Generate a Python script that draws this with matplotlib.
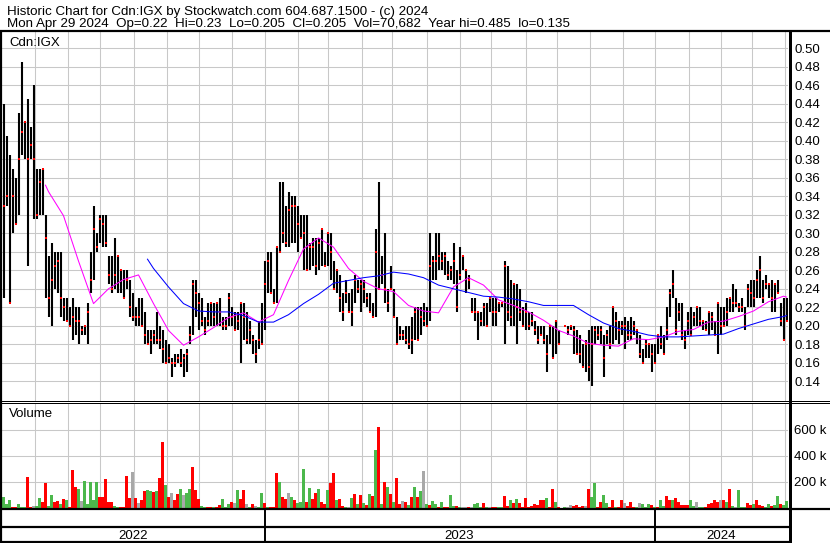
import numpy as np
import pandas as pd
import matplotlib
matplotlib.use("Agg")
import matplotlib.pyplot as plt
from matplotlib.lines import Line2D

plt.rcParams['font.family'] = ['Liberation Sans', 'DejaVu Sans']

# ---- data: one bar per two trading days, May 2022 - Apr 2024 ----
high = [.44, .405, .385, .37, .36, .43, .485, .42, .445, .415,
        .46, .37, .37, .37, .32, .275, .29, .28, .28, .28,
        .23, .23, .22, .23, .22, .22, .20, .20, .225, .28,
        .33, .30, .32, .32, .32, .275, .275, .295, .275, .26,
        .26, .26, .25, .235, .22, .23, .23, .215, .195, .195,
        .195, .215, .20, .195, .185, .18, .165, .17, .17, .175,
        .17, .175, .20, .25, .25, .235, .23, .21, .225, .225,
        .225, .225, .23, .21, .21, .235, .22, .215, .215, .225,
        .225, .215, .205, .19, .185, .205, .225, .27, .28, .28,
        .24, .285, .355, .355, .33, .345, .34, .34, .33, .32,
        .32, .32, .29, .295, .295, .295, .305, .28, .30, .30,
        .27, .26, .255, .235, .25, .235, .24, .255, .25, .25,
        .25, .235, .235, .225, .305, .355, .275, .30, .24, .265,
        .24, .21, .20, .195, .20, .20, .21, .22, .22, .22,
        .225, .22, .30, .275, .30, .30, .28, .28, .27, .265,
        .29, .26, .285, .275, .26, .255, .23, .23, .215, .215,
        .225, .225, .23, .23, .23, .225, .225, .27, .265, .25,
        .245, .245, .24, .22, .225, .215, .215, .205, .20, .20,
        .20, .19, .20, .20, .205, .195, np.nan, .20, .20, .20,
        .20, .195, .19, .18, .185, .195, .20, .20, .20, .20,
        .19, .195, .20, .22, .215, .205, .205, .21, .205, .21,
        .205, .195, .19, .175, .185, .18, .18, .18, .19, .20,
        .19, .22, .24, .26, .23, .225, .225, .195, .215, .22,
        .215, .22, .22, .205, .205, .215, .215, .205, .225, .22,
        .22, .23, .23, .245, .24, .225, .23, .22, .245, .25,
        .25, .26, .275, .25, .255, .245, .25, .245, .25, .225,
        .23, .23]
low = [.23, .33, .225, .30, .31, .32, .385, .38, .265, .38,
       .315, .315, .32, .32, .23, .21, .20, .24, .235, .21,
       .205, .205, .20, .185, .19, .18, .19, .19, .18, .235,
       .25, .28, .29, .285, .285, .245, .235, .24, .235, .235,
       .23, .24, .21, .205, .20, .20, .20, .18, .18, .17,
       .18, .18, .175, .16, .16, .16, .145, .155, .16, .155,
       .145, .15, .18, .19, .21, .195, .20, .19, .20, .20,
       .20, .20, .20, .195, .195, .20, .20, .195, .195, .16,
       .185, .18, .18, .17, .16, .175, .18, .195, .235, .235,
       .225, .225, .28, .29, .285, .285, .29, .29, .28, .295,
       .26, .26, .26, .265, .255, .26, .265, .265, .265, .25,
       .24, .235, .215, .205, .225, .215, .20, .225, .235, .215,
       .225, .22, .215, .21, .21, .24, .245, .225, .215, .24,
       .21, .18, .185, .185, .18, .175, .17, .185, .185, .19,
       .20, .20, .205, .25, .25, .26, .26, .255, .25, .25,
       .245, .215, .25, .26, .235, .24, .215, .205, .185, .20,
       .20, .20, .215, .20, .20, .215, .22, .18, .205, .20,
       .20, .18, .205, .20, .195, .195, .20, .19, .18, .19,
       .18, .15, .18, .165, .17, .18, np.nan, .20, .19, .195,
       .17, .17, .16, .155, .15, .14, .135, .18, .185, .18,
       .145, .18, .175, .18, .185, .18, .19, .175, .185, .185,
       .19, .18, .165, .16, .165, .165, .15, .16, .17, .175,
       .17, .185, .21, .23, .19, .205, .185, .175, .19, .19,
       .20, .20, .20, .195, .195, .19, .195, .19, .17, .19,
       .20, .20, .215, .215, .22, .215, .215, .195, .22, .22,
       .22, .23, .23, .225, .24, .23, .215, .215, .235, .20,
       .185, .205]
close = [.33, .34, .225, .34, .31, .38, .41, .42, .38, .395,
         .38, .32, .355, .37, .295, .23, .25, .265, .27, .23,
         .22, .205, .20, .21, .205, .205, .195, .20, .215, .25,
         .305, .285, .315, .31, .29, .255, .24, .255, .275, .26,
         .23, .25, .22, .21, .21, .21, .20, .19, .18, .185,
         .19, .185, .185, .175, .16, .165, .16, .16, .165, .16,
         .165, .17, .19, .245, .235, .225, .205, .195, .205, .225,
         .21, .225, .215, .20, .20, .23, .21, .195, .205, .225,
         .21, .185, .195, .185, .17, .185, .18, .245, .27, .235,
         .225, .285, .28, .30, .29, .325, .33, .33, .31, .295,
         .30, .26, .285, .285, .265, .29, .305, .265, .30, .28,
         .24, .26, .23, .215, .235, .215, .215, .25, .24, .245,
         .24, .23, .215, .21, .28, .24, .255, .24, .225, .24,
         .21, .18, .19, .19, .185, .18, .185, .215, .185, .21,
         .205, .20, .265, .27, .27, .275, .27, .275, .255, .26,
         .27, .22, .255, .275, .26, .25, .215, .215, .215, .205,
         .22, .20, .23, .215, .215, .225, .225, .265, .215, .21,
         .245, .22, .215, .20, .215, .20, .205, .195, .185, .19,
         .185, .17, .20, .165, .205, .18, np.nan, .20, .195, .20,
         .195, .17, .17, .155, .18, .155, .18, .195, .19, .195,
         .165, .19, .18, .22, .205, .195, .20, .20, .19, .19,
         .20, .195, .17, .16, .18, .18, .17, .16, .19, .18,
         .17, .195, .235, .245, .195, .215, .19, .185, .205, .19,
         .21, .22, .205, .205, .195, .215, .21, .19, .225, .20,
         .20, .215, .23, .225, .225, .22, .22, .20, .24, .235,
         .23, .25, .26, .23, .245, .245, .23, .245, .235, .205,
         .185, .205]

# volume in thousands of shares, direction: g = up, r = down, n = unchanged
volume = [85, 32, 63, 8, 5, 27, 5, 6, 240, 8,
          15, 15, 76, 50, 192, 15, 97, 45, 53, 32,
          70, 60, 10, 290, 160, 143, 52, 205, 32, 200,
          58, 200, 84, 84, 220, 45, 45, 14, 8, 4,
          4, 245, 78, 277, 76, 40, 63, 130, 140, 133,
          123, 133, 230, 505, 180, 86, 117, 63, 105, 146,
          102, 117, 146, 315, 135, 71, 12, 6, 6, 6,
          8, 6, 20, 70, 8, 32, 45, 37, 140, 71,
          140, 32, 8, 32, 14, 10, 114, 40, 5, 5,
          8, 272, 200, 84, 71, 117, 84, 58, 40, 45,
          303, 45, 154, 71, 117, 148, 45, 32, 135, 195,
          272, 58, 68, 14, 5, 8, 79, 110, 32, 97,
          37, 20, 105, 91, 450, 625, 32, 200, 160, 105,
          45, 230, 32, 52, 50, 20, 84, 160, 84, 127,
          285, 32, 25, 52, 32, 10, 45, 8, 10, 102,
          15, 18, 8, 5, 6, 5, 8, 32, 37, 8,
          35, 8, 8, 5, 8, 5, 6, 90, 14, 63,
          37, 70, 37, 8, 78, 8, 14, 30, 25, 63,
          63, 78, 10, 147, 45, 6, 3, 5, 8, 20,
          12, 20, 10, 14, 14, 147, 84, 195, 10, 45,
          97, 37, 10, 58, 5, 10, 65, 40, 18, 45,
          8, 8, 40, 32, 6, 30, 25, 6, 8, 58,
          18, 90, 65, 65, 75, 45, 25, 25, 20, 65,
          18, 45, 8, 10, 5, 30, 37, 58, 45, 62,
          62, 50, 147, 18, 6, 135, 8, 8, 37, 25,
          32, 65, 25, 18, 10, 32, 18, 20, 92, 32,
          25, 55]
vol_dir = ("gggrrgggrr" "nggrrggrrg" "rgrrrgnggg" "ggrrrrrggr"
           "rrrnrnrrgg" "rgrrgrnrrg" "nggrrrggrr" "grrgggrngr"
           "rngrnggrgr" "rrgrrngrgg" "grgrrgrrgr" "rgrrgngrgr"
           "grgrgrgrgr" "grrnrgrgrg" "ngrggrgrrg" "grgnnrngg"
           "grgnrrggrr" "grgrrrrrrr" "rrgrrgrrgn" "nrrrrnrgg"
           "rrggrrgrrn" "rrrgngggrg" "rggrrgrrrr" "rggnggrrr"
           "rrnrgrgnggg" "rrgrrrggrgg" "r")

# moving averages (bucket index, value)
fast_k = [14] + list(range(15, 261, 5)) + [261]
fast_ma = [.352, .345, .319, .27, .224, .240, .25, .255, .224, .195,
           .179, .188, .198, .209, .214, .204, .212, .249, .283, .295,
           .285, .262, .248, .24, .237, .222, .216, .214, .242, .252,
           .244, .228, .222, .215, .206, .195, .189, .181, .179, .178,
           .186, .185, .188, .194, .196, .204, .205, .21, .216, .226,
           .232, .231]
slow_k = [48] + list(range(50, 261, 5)) + [261]
slow_ma = [.272, .262, .242, .224, .216, .215, .215, .211, .204, .204,
           .212, .224, .234, .246, .249, .252, .254, .258, .256, .252,
           .244, .24, .236, .232, .231, .229, .226, .222, .222, .222,
           .212, .203, .197, .194, .19, .188, .188, .189, .19, .191,
           .197, .202, .207, .21, .211]

price_ticks = np.arange(0.14, 0.501, 0.02)
vol_ticks = [200, 400, 600]

# ---- layout ----
W, H = 830, 543
fig = plt.figure(figsize=(W / 100, H / 100), dpi=100)
fig.patch.set_facecolor('white')


def px_axes(x0, y0, x1, y1):
    return fig.add_axes([x0 / W, 1 - y1 / H, (x1 - x0) / W, (y1 - y0) / H])


def hline(y, x0, x1, lw=1.0):
    fig.add_artist(Line2D([x0 / W, x1 / W], [1 - y / H, 1 - y / H],
                          color='black', lw=lw * 0.72, solid_capstyle='butt'))


def vline(x, y0, y1, lw=1.0):
    fig.add_artist(Line2D([x / W, x / W], [1 - y0 / H, 1 - y1 / H],
                          color='black', lw=lw * 0.72, solid_capstyle='butt'))


n = len(high)
days = pd.bdate_range("2022-05-02", periods=2 * n)
xs = np.arange(n) * 2 + 0.5
starts = [i for i in range(1, len(days)) if days[i].month != days[i - 1].month]
month_edges = np.array(starts) - 0.5
year_edges = [i - 0.5 for i in starts if days[i].year != days[i - 1].year]
xlim = (-0.5, 2 * n - 0.5)
grid_kw = dict(color='#c8c8c8', lw=0.75)

# price panel
ax = px_axes(2, 32, 788, 401)
ax.set_xlim(xlim)
ax.set_ylim(0.1187, 0.5176)
ax.set_axisbelow(True)
ax.set_xticks(month_edges)
ax.set_yticks(price_ticks)
ax.grid(True, **grid_kw)
ax.tick_params(length=0, labelbottom=False, labelleft=False, labelright=True,
               labelsize=9.5, pad=4.5)
ax.set_yticklabels(['%.2f' % t for t in price_ticks])
for s in ax.spines.values():
    s.set_visible(False)
ax.vlines(xs, low, high, color='black', lw=1.5)
ax.plot(xs + 0.6, close, 's', color='#ff0000', ms=2.1, mew=0)
ax.plot(2 * np.array(fast_k) + 0.5, fast_ma, color='#ff00ff', lw=0.75)
ax.plot(2 * np.array(slow_k) + 0.5, slow_ma, color='#0000ff', lw=0.75)
ax.text(7 / 786, 1 - 14 / 369, 'Cdn:IGX', transform=ax.transAxes,
        fontsize=9.5, va='baseline')

# volume panel
av = px_axes(2, 404, 788, 508)
av.set_xlim(xlim)
av.set_ylim(0, 800)
av.set_axisbelow(True)
av.set_xticks(month_edges)
av.set_yticks(vol_ticks)
av.grid(True, **grid_kw)
av.tick_params(length=0, labelbottom=False, labelleft=False, labelright=True,
               labelsize=9.5, pad=4.5)
av.set_yticklabels(['%d k' % v for v in vol_ticks])
for s in av.spines.values():
    s.set_visible(False)
colors = {'g': '#4cb84c', 'r': '#ff0000', 'n': '#a8a8a8'}
av.bar(xs, volume, width=1.35, color=[colors[c] for c in vol_dir], lw=0)
av.text(7 / 786, 1 - 13 / 104, 'Volume', transform=av.transAxes,
        fontsize=9.5, va='baseline')

# date strip
ad = px_axes(2, 510, 788, 541)
ad.set_xlim(xlim)
ad.set_ylim(0, 1)
ad.axis('off')
for e in year_edges:
    ad.axvline(e, color='black', lw=1.4)
edges = [xlim[0]] + year_edges + [xlim[1]]
for a, b in zip(edges[:-1], edges[1:]):
    yr = days[int(min(max((a + b) / 2, 0), len(days) - 1))].year
    ad.text((a + b) / 2, 0.08, str(yr), ha='center', va='baseline',
            fontsize=9.5)

# frame lines
hline(31, 0, W, 2.2)
hline(400.5, 0, W, 1.0)
hline(403, 0, W, 1.0)
hline(509, 0, W, 2.2)
hline(526.5, 0, 790, 2.2)
hline(541.5, 0, 790, 2.2)
vline(1, 31, H, 2.2)
vline(789.5, 31, 542.5, 3.0)

# header
fig.text(7 / W, 1 - 15 / H,
         'Historic Chart for Cdn:IGX by Stockwatch.com 604.687.1500 - (c) 2024',
         fontsize=9.65, va='baseline')
fig.text(7 / W, 1 - 27.5 / H,
         'Mon Apr 29 2024  Op=0.22  Hi=0.23  Lo=0.205  Cl=0.205  Vol=70,682'
         '  Year hi=0.485  lo=0.135',
         fontsize=9.65, va='baseline')

fig.savefig('out.png', dpi=100)
